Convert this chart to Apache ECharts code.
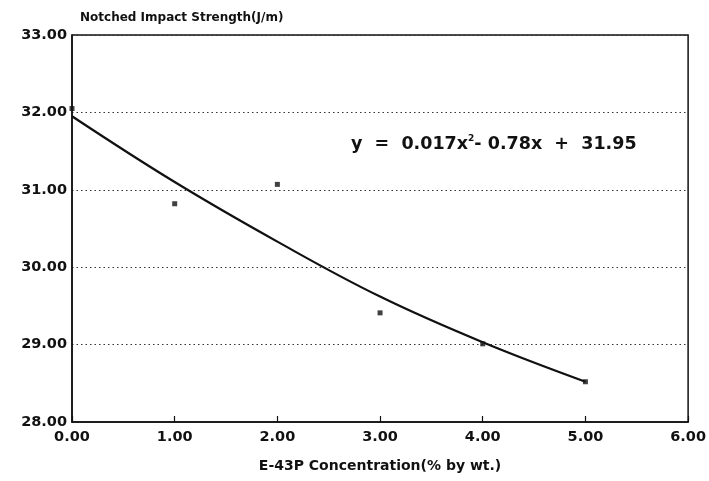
<!DOCTYPE html>
<html><head><meta charset="utf-8">
<script src="https://cdn.jsdelivr.net/npm/echarts@6/dist/echarts.min.js"></script>
<style>html,body{margin:0;padding:0;background:#fff}#c{width:709px;height:481px}</style>
</head><body><div id="c"></div>
<script>
const xValues = [0, 1, 2, 3, 4, 5];
const measured = [32.05, 30.82, 31.07, 29.41, 29.01, 28.52];
const trendX = [0, 1, 2, 3, 4, 5];
const trendY = [31.95, 31.10, 30.33, 29.62, 29.03, 28.52];
const xTicks = ['0.00','1.00','2.00','3.00','4.00','5.00','6.00'];
const yTicks = ['28.00','29.00','30.00','31.00','32.00','33.00'];
const titleText = 'Notched Impact Strength(J/m)';
const xName = 'E-43P Concentration(% by wt.)';

const chart = echarts.init(document.getElementById('c'), null, {renderer:'canvas'});
const font = '"DejaVu Sans", sans-serif';
chart.setOption({
  animation: false,
  backgroundColor: '#fff',
  grid: {left: 72, right: 19, top: 35, bottom: 59, show: true, borderColor: '#111', borderWidth: 1.5, backgroundColor: 'transparent'},
  title: {text: titleText, left: 75, top: 7, textStyle: {fontFamily: font, fontWeight: 'bold', fontSize: 12, color: '#111'}},
  xAxis: {
    type: 'value', min: 0, max: 6, interval: 1,
    name: xName, nameLocation: 'middle', nameGap: 37,
    nameTextStyle: {fontFamily: font, fontWeight: 'bold', fontSize: 14, color: '#111'},
    axisLine: {show: true, lineStyle: {color: '#111', width: 1.5}},
    axisTick: {show: true, inside: true, length: 6, lineStyle: {color: '#111', width: 1.2}},
    axisLabel: {fontFamily: font, fontWeight: 'bold', fontSize: 14.5, color: '#111', margin: 8,
      formatter: v => xTicks[Math.round(v)]},
    splitLine: {show: false}
  },
  yAxis: {
    type: 'value', min: 28, max: 33, interval: 1,
    axisLine: {show: true, lineStyle: {color: '#111', width: 1.5}},
    axisTick: {show: false},
    axisLabel: {fontFamily: font, fontWeight: 'bold', fontSize: 14.5, color: '#111', margin: 5,
      formatter: v => yTicks[Math.round(v - 28)]},
    splitLine: {show: true, lineStyle: {color: '#333', type: [1.5, 3], width: 1.2}}
  },
  graphic: [{
    type: 'text', left: 351, top: 134,
    style: {
      text: '{a|y  =  0.017x}{s|2}{a|- 0.78x  +  31.95}',
      rich: {
        a: {fontFamily: font, fontWeight: 'bold', fontSize: 17.5, fill: '#111', verticalAlign: 'bottom'},
        s: {fontFamily: font, fontWeight: 'bold', fontSize: 9, fill: '#111', verticalAlign: 'top', padding: [0, 0, 10, 0]}
      },
      fill: '#111'
    }
  }],
  series: [
    {type: 'line', data: trendX.map((x, i) => [x, trendY[i]]), smooth: 0.4, symbol: 'none',
     lineStyle: {color: '#111', width: 2.2}, z: 2},
    {type: 'scatter', data: xValues.map((x, i) => [x, measured[i]]), symbol: 'rect', symbolSize: 5,
     itemStyle: {color: '#111'}, z: 3}
  ]
});
</script></body></html>
